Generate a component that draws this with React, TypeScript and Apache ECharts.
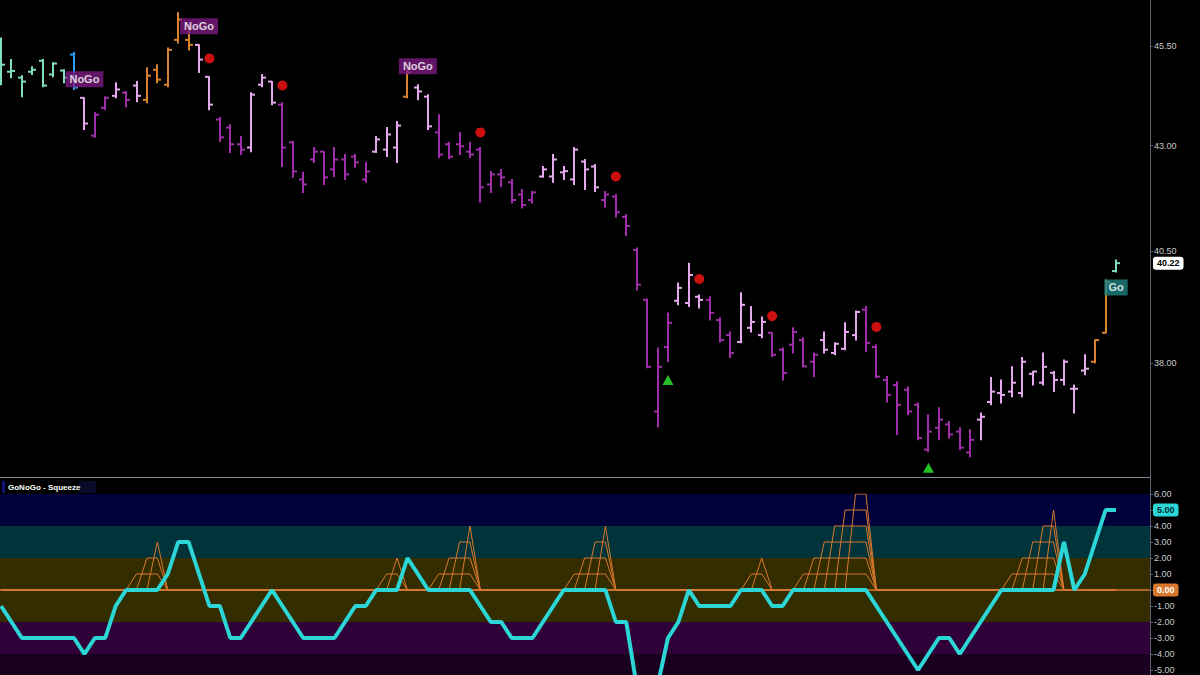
import React, { useEffect, useRef } from 'react';
import * as echarts from 'echarts';

// ---------- price panel data (one entry per bar) ----------
const open = [
  44.89, 44.84, 44.69, 44.84, 45.12, 44.77, 44.87, 45.28, 44.18, 43.24,
  43.93, 44.23, 44.31, 44.49, 44.13, 44.89, 44.51, 45.66, 45.66, 45.53,
  44.71, 43.64, 43.44, 43.03, 42.95, 44.51, 44.59, 44.01, 43.08, 42.18,
  42.66, 42.85, 42.42, 42.66, 42.73, 42.18, 42.85, 42.90, 42.95, 44.21,
  44.44, 44.21, 43.32, 43.03, 43.03, 42.85, 42.90, 42.06, 42.30, 42.11,
  41.82, 41.69, 42.25, 42.25, 42.35, 42.18, 42.61, 42.49, 41.69, 41.77,
  41.29, 40.52, 39.39, 36.97, 38.35, 39.37, 39.32, 39.46, 39.39, 38.94,
  38.61, 38.46, 38.77, 38.61, 38.66, 38.29, 38.40, 38.50, 38.03, 38.50,
  38.22, 38.31, 38.61, 39.17, 38.35, 37.64, 37.53, 37.43, 37.11, 36.18,
  36.63, 36.70, 36.55, 36.12, 36.80, 37.17, 37.36, 37.39, 37.36, 37.77,
  37.58, 37.79, 37.64, 37.45, 37.84, 38.03, 38.66, 40.04,
];
const high = [
  45.71, 45.15, 44.74, 44.97, 45.15, 45.07, 44.89, 45.33, 44.18, 43.81,
  44.21, 44.56, 44.34, 44.59, 44.94, 45.02, 45.45, 46.37, 46.06, 45.53,
  44.71, 43.69, 43.51, 43.22, 44.31, 44.77, 44.59, 44.06, 43.10, 42.35,
  42.95, 42.85, 42.95, 42.78, 42.78, 42.59, 43.22, 43.44, 43.59, 44.89,
  44.51, 44.26, 43.76, 43.08, 43.32, 43.08, 42.95, 42.37, 42.42, 42.18,
  41.94, 41.89, 42.49, 42.78, 42.49, 42.95, 42.66, 42.54, 41.89, 41.82,
  41.34, 40.57, 39.41, 38.33, 39.10, 39.77, 40.22, 39.50, 39.46, 38.99,
  38.68, 39.55, 39.24, 39.01, 38.66, 38.33, 38.77, 38.55, 38.22, 38.68,
  38.44, 38.88, 39.14, 39.24, 38.40, 37.71, 37.60, 37.49, 37.15, 36.90,
  37.05, 36.76, 36.63, 36.59, 36.94, 37.69, 37.64, 37.92, 38.12, 37.82,
  38.22, 37.82, 38.07, 37.53, 38.18, 38.50, 39.84, 40.29,
];
const low = [
  44.51, 44.69, 44.21, 44.77, 44.46, 44.71, 44.56, 44.39, 43.39, 43.20,
  43.88, 44.18, 43.96, 44.08, 44.06, 44.56, 44.46, 45.58, 45.40, 44.82,
  43.88, 43.10, 42.83, 42.78, 42.85, 44.46, 44.01, 42.49, 42.23, 41.87,
  42.59, 42.06, 42.25, 42.18, 42.47, 42.11, 42.83, 42.73, 42.59, 44.18,
  44.13, 43.39, 42.71, 42.68, 42.78, 42.71, 41.64, 41.87, 42.01, 41.62,
  41.50, 41.62, 42.23, 42.11, 42.18, 42.06, 41.94, 41.89, 41.52, 41.29,
  40.86, 39.61, 37.90, 36.65, 38.03, 39.28, 39.24, 39.21, 38.94, 38.46,
  38.12, 38.44, 38.68, 38.55, 38.14, 37.64, 38.22, 37.92, 37.71, 38.22,
  38.18, 38.29, 38.50, 38.25, 37.69, 37.17, 36.49, 36.90, 36.38, 36.14,
  36.38, 36.42, 36.18, 36.03, 36.38, 37.11, 37.15, 37.28, 37.28, 37.53,
  37.53, 37.39, 37.53, 36.94, 37.75, 38.01, 38.66, 40.02,
];
const close = [
  45.02, 44.86, 44.59, 44.89, 44.49, 45.05, 44.69, 44.44, 43.54, 43.76,
  44.18, 44.39, 44.13, 44.23, 44.74, 44.64, 45.40, 46.19, 45.53, 45.15,
  44.01, 43.20, 43.03, 42.90, 44.26, 44.69, 44.06, 42.95, 42.37, 42.06,
  42.85, 42.23, 42.66, 42.30, 42.59, 42.37, 43.15, 43.27, 43.49, 44.82,
  44.34, 43.47, 42.78, 42.73, 42.98, 42.78, 41.99, 42.30, 42.23, 41.69,
  41.57, 41.87, 42.42, 42.66, 42.38, 42.90, 42.42, 41.99, 41.82, 41.40,
  41.08, 39.73, 37.92, 37.92, 38.88, 39.66, 39.95, 39.39, 39.10, 38.50,
  38.22, 39.28, 38.90, 38.90, 38.18, 37.79, 38.68, 37.93, 38.18, 38.29,
  38.42, 38.68, 39.12, 38.44, 37.71, 37.32, 37.11, 36.97, 36.42, 36.55,
  36.80, 36.49, 36.22, 36.38, 36.86, 37.39, 37.32, 37.58, 38.03, 37.82,
  37.92, 37.64, 38.03, 37.45, 37.88, 38.50, 39.79, 40.22,
];
// G = Go, B = Go (blue), P = weak NoGo, D = strong NoGo, A = amber
const barStatus = (
  'GGGGGGG' + 'B' + 'P' + 'DD' + 'P' + 'D' + 'P' + 'AAAAA' + 'PP' + 'DDD' + 'PPP' +
  'DDDDDDDDD' + 'PPP' + 'A' + 'PP' + 'DDDDDDDDDD' + 'PPPPPP' + 'DDDDDDD' + 'PPP' +
  'DDD' + 'PPP' + 'DDDDD' + 'PPPP' + 'DDDDDDDDDDD' + 'PPPPPPPPPPP' + 'AA' + 'G'
).split('');

const priceTicks = [38.0, 40.5, 43.0, 45.5];
const priceRange = [35.62, 46.705];
const lastPrice = 40.22;

// red dots: [bar, price]; green triangles: [bar, price]
const sellDots = [[20, 45.18], [27, 44.49], [46, 43.32], [59, 42.25], [67, 39.86], [74, 39.03], [84, 38.79]];
const buyTriangles = [[64, 37.64], [89, 35.81]];
const noGoBars = [8, 19, 40];
const goBars = [107];

// ---------- squeeze panel data ----------
const oscillator = [
  -1, -2, -3, -3, -3, -3, -3, -3, -4, -3,
  -3, -1, 0, 0, 0, 0, 1, 3, 3, 1,
  -1, -1, -3, -3, -2, -1, 0, -1, -2, -3,
  -3, -3, -3, -2, -1, -1, 0, 0, 0, 2,
  1, 0, 0, 0, 0, 0, -1, -2, -2, -3,
  -3, -3, -2, -1, 0, 0, 0, 0, 0, -2,
  -2, -6, -7, -6, -3, -2, 0, -1, -1, -1,
  -1, 0, 0, 0, -1, -1, 0, 0, 0, 0,
  0, 0, 0, 0, -1, -2, -3, -4, -5, -4,
  -3, -3, -4, -3, -2, -1, 0, 0, 0, 0,
  0, 0, 3, 0, 1, 3, 5, 5,
];
const squeezeCount = [
  0, 0, 0, 0, 0, 0, 0, 0, 0, 0,
  0, 0, 0, 1, 2, 3, 0, 0, 0, 0,
  0, 0, 0, 0, 0, 0, 0, 0, 0, 0,
  0, 0, 0, 0, 0, 0, 0, 1, 2, 0,
  0, 0, 1, 2, 3, 4, 0, 0, 0, 0,
  0, 0, 0, 0, 0, 1, 2, 3, 4, 0,
  0, 0, 0, 0, 0, 0, 0, 0, 0, 0,
  0, 0, 1, 2, 0, 0, 0, 1, 2, 3,
  4, 5, 6, 7, 0, 0, 0, 0, 0, 0,
  0, 0, 0, 0, 0, 0, 0, 1, 2, 3,
  4, 5, 0, 0, 0, 0, 0, 0,
];
const squeezeLevels = [1, 2, 3, 4, 5, 6];
const oscTicks = [-5, -4, -3, -2, -1, 0, 1, 2, 3, 4, 5, 6];
const zones = [
  { from: 4, to: 6, color: '#00003a' },
  { from: 2, to: 4, color: '#00333a' },
  { from: -2, to: 2, color: '#332d00' },
  { from: -4, to: -2, color: '#300038' },
  { from: -6, to: -4, color: '#1a001f' },
];

const statusColors: Record<string, string> = {
  G: '#7fdcc0',
  B: '#2b9cf0',
  P: '#e3a9ec',
  D: '#9e2fa8',
  A: '#d9822f',
};
const FONT = 'Liberation Sans, Arial, Helvetica, sans-serif';
const AXIS_COLOR = '#5c6272';
const LABEL_COLOR = '#c9c9c9';
const ORANGE = '#d9782d';
const CYAN = '#2cd6d6';
const HIDDEN_LINE = { color: 'rgba(0,0,0,0)', width: 0, type: 'solid' };

function valueBox(text: string, bg: string, fg: string) {
  return {
    show: true,
    position: 'end',
    distance: 3,
    formatter: () => text,
    backgroundColor: bg,
    color: fg,
    opacity: 1,
    fontSize: 9,
    fontWeight: 'bold',
    fontFamily: FONT,
    padding: [2, 4],
    borderRadius: 3,
  };
}

export default function App() {
  const ref = useRef<HTMLDivElement>(null);

  useEffect(() => {
    if (!ref.current) return;
    const chart = echarts.init(ref.current, null, { renderer: 'svg' });
    const ln = Math.log;
    const xMin = -0.1;
    const xMax = 110.26;
    const lastOsc = oscillator[oscillator.length - 1];
    const lastSqueeze = 0;
    // values already shown by the value boxes on the axis are not repeated as plain labels
    const oscLabelValues = oscTicks.filter((v) => v !== lastOsc && v !== lastSqueeze);

    const ohlcData = open.map((o, i) => [i, ln(o), ln(high[i]), ln(low[i]), ln(close[i])]);

    const orangeSeries = squeezeLevels.map((k) => ({
      type: 'line',
      xAxisIndex: 1,
      yAxisIndex: 1,
      data: squeezeCount.map((c, i) => [i, c >= k ? k : 0]),
      symbol: 'none',
      silent: true,
      z: 2,
      lineStyle: { color: ORANGE, width: 1 },
    }));

    const option: any = {
      animation: false,
      backgroundColor: '#000',
      grid: [
        { left: 0, top: 0, width: 1150, height: 477 },
        { left: 0, top: 494, width: 1150, height: 181 },
      ],
      xAxis: [
        { type: 'value', gridIndex: 0, min: xMin, max: xMax, show: false },
        { type: 'value', gridIndex: 1, min: xMin, max: xMax, show: false },
      ],
      yAxis: [
        {
          type: 'value',
          gridIndex: 0,
          position: 'right',
          min: ln(priceRange[0]),
          max: ln(priceRange[1]),
          axisLine: { show: true, onZero: false, lineStyle: { color: AXIS_COLOR, width: 1 } },
          axisTick: {
            show: true,
            length: 3,
            customValues: priceTicks.map(ln),
            lineStyle: { color: AXIS_COLOR },
          },
          axisLabel: {
            customValues: priceTicks.map(ln),
            formatter: (v: number) => Math.exp(v).toFixed(2),
            color: LABEL_COLOR,
            fontSize: 9,
            fontFamily: FONT,
            margin: 4,
          },
          splitLine: { show: false },
        },
        {
          type: 'value',
          gridIndex: 1,
          position: 'right',
          min: 6 - 181 / 16,
          max: 6,
          axisLine: { show: true, onZero: false, lineStyle: { color: AXIS_COLOR, width: 1 } },
          axisTick: { show: true, length: 3, customValues: oscTicks, lineStyle: { color: AXIS_COLOR } },
          axisLabel: {
            customValues: oscLabelValues,
            formatter: (v: number) => v.toFixed(2),
            color: LABEL_COLOR,
            fontSize: 9,
            fontFamily: FONT,
            margin: 4,
          },
          splitLine: { show: false },
        },
      ],
      graphic: [
        { type: 'line', silent: true, shape: { x1: 0, y1: 477.5, x2: 1150, y2: 477.5 }, style: { stroke: '#7d8a9a', lineWidth: 1 } },
        { type: 'line', silent: true, shape: { x1: 1150.5, y1: 477, x2: 1150.5, y2: 494 }, style: { stroke: AXIS_COLOR, lineWidth: 1 } },
        { type: 'rect', silent: true, shape: { x: 2, y: 481, width: 3, height: 12 }, style: { fill: '#12127a' } },
        { type: 'rect', silent: true, shape: { x: 79, y: 481, width: 17, height: 12 }, style: { fill: '#0a0a2a' } },
        {
          type: 'text',
          silent: true,
          x: 8,
          y: 487.5,
          style: { text: 'GoNoGo - Squeeze', fill: '#ffffff', fontSize: 8, fontWeight: 'bold', fontFamily: FONT, verticalAlign: 'middle' },
        },
      ],
      series: [
        {
          type: 'custom',
          name: 'bars',
          xAxisIndex: 0,
          yAxisIndex: 0,
          silent: true,
          z: 3,
          encode: { x: 0, y: [1, 2, 3, 4] },
          data: ohlcData,
          renderItem: (params: any, api: any) => {
            const i = api.value(0);
            const o = api.coord([i, api.value(1)]);
            const h = api.coord([i, api.value(2)]);
            const l = api.coord([i, api.value(3)]);
            const c = api.coord([i, api.value(4)]);
            const color = statusColors[barStatus[params.dataIndex]] || '#fff';
            const x = Math.round(h[0]);
            const st = { stroke: color, lineWidth: 2 };
            return {
              type: 'group',
              children: [
                { type: 'line', shape: { x1: x, y1: h[1] - 0.5, x2: x, y2: l[1] + 0.5 }, style: st },
                { type: 'line', shape: { x1: x - 4, y1: o[1], x2: x, y2: o[1] }, style: st },
                { type: 'line', shape: { x1: x, y1: c[1], x2: x + 4, y2: c[1] }, style: st },
              ],
            };
          },
        },
        {
          type: 'scatter',
          name: 'sell',
          xAxisIndex: 0,
          yAxisIndex: 0,
          silent: true,
          symbol: 'circle',
          symbolSize: 10,
          itemStyle: { color: '#ff1414' },
          z: 4,
          data: sellDots.map(([i, p]) => [i, ln(p)]),
        },
        {
          type: 'scatter',
          name: 'buy',
          xAxisIndex: 0,
          yAxisIndex: 0,
          silent: true,
          symbol: 'triangle',
          symbolSize: [11, 10],
          itemStyle: { color: '#2ef02e' },
          z: 4,
          data: buyTriangles.map(([i, p]) => [i, ln(p)]),
        },
        {
          type: 'line',
          name: 'last price',
          xAxisIndex: 0,
          yAxisIndex: 0,
          silent: true,
          symbol: 'none',
          lineStyle: HIDDEN_LINE,
          z: 6,
          data: [[close.length - 1, ln(lastPrice)]],
          markLine: {
            silent: true,
            symbol: 'none',
            precision: 8,
            lineStyle: HIDDEN_LINE,
            data: [{ yAxis: ln(lastPrice) }],
            label: valueBox(lastPrice.toFixed(2), '#ffffff', '#000000'),
          },
        },
        {
          type: 'scatter',
          name: 'nogo',
          xAxisIndex: 0,
          yAxisIndex: 0,
          silent: true,
          symbolSize: 1,
          itemStyle: { color: 'rgba(0,0,0,0)' },
          z: 10,
          data: noGoBars.map((i) => [i, ln(high[i])]),
          label: {
            show: true,
            position: 'top',
            distance: 10,
            formatter: 'NoGo',
            color: '#ffffff',
            fontSize: 11,
            fontWeight: 'bold',
            fontFamily: FONT,
            lineHeight: 12,
            backgroundColor: '#7a1a80',
            padding: [2, 4],
          },
        },
        {
          type: 'scatter',
          name: 'go',
          xAxisIndex: 0,
          yAxisIndex: 0,
          silent: true,
          symbolSize: 1,
          itemStyle: { color: 'rgba(0,0,0,0)' },
          z: 10,
          data: goBars.map((i) => [i, ln(low[i])]),
          label: {
            show: true,
            position: 'bottom',
            distance: 7,
            formatter: 'Go',
            color: '#ffffff',
            fontSize: 11,
            fontWeight: 'bold',
            fontFamily: FONT,
            lineHeight: 12,
            backgroundColor: '#1e8282',
            padding: [2, 4],
          },
        },
        {
          type: 'line',
          name: 'zones',
          xAxisIndex: 1,
          yAxisIndex: 1,
          silent: true,
          symbol: 'none',
          z: 1,
          lineStyle: HIDDEN_LINE,
          data: oscillator.map((v, i) => [i, v]),
          markArea: {
            silent: true,
            data: zones.map((zn) => [
              { yAxis: zn.from, itemStyle: { color: zn.color, opacity: 1 } },
              { yAxis: zn.to },
            ]),
          },
        },
        ...orangeSeries,
        {
          type: 'line',
          name: 'oscillator',
          xAxisIndex: 1,
          yAxisIndex: 1,
          silent: true,
          symbol: 'none',
          z: 5,
          lineStyle: { color: CYAN, width: 4 },
          data: oscillator.map((v, i) => [i, v]),
        },
        {
          type: 'line',
          name: 'value boxes',
          xAxisIndex: 1,
          yAxisIndex: 1,
          silent: true,
          symbol: 'none',
          lineStyle: HIDDEN_LINE,
          z: 6,
          data: [[oscillator.length - 1, lastOsc]],
          markLine: {
            silent: true,
            symbol: 'none',
            precision: 8,
            data: [
              {
                yAxis: lastSqueeze,
                lineStyle: { color: ORANGE, width: 1.5, type: 'solid' },
                label: valueBox(lastSqueeze.toFixed(2), ORANGE, '#ffffff'),
              },
              {
                yAxis: lastOsc,
                lineStyle: HIDDEN_LINE,
                label: valueBox(lastOsc.toFixed(2), CYAN, '#002a33'),
              },
            ],
          },
        },
      ],
    };

    chart.setOption(option);
    return () => chart.dispose();
  }, []);

  return (
    <div
      ref={ref}
      style={{ position: 'fixed', left: 0, top: 0, width: 1200, height: 675, background: '#000' }}
    />
  );
}
